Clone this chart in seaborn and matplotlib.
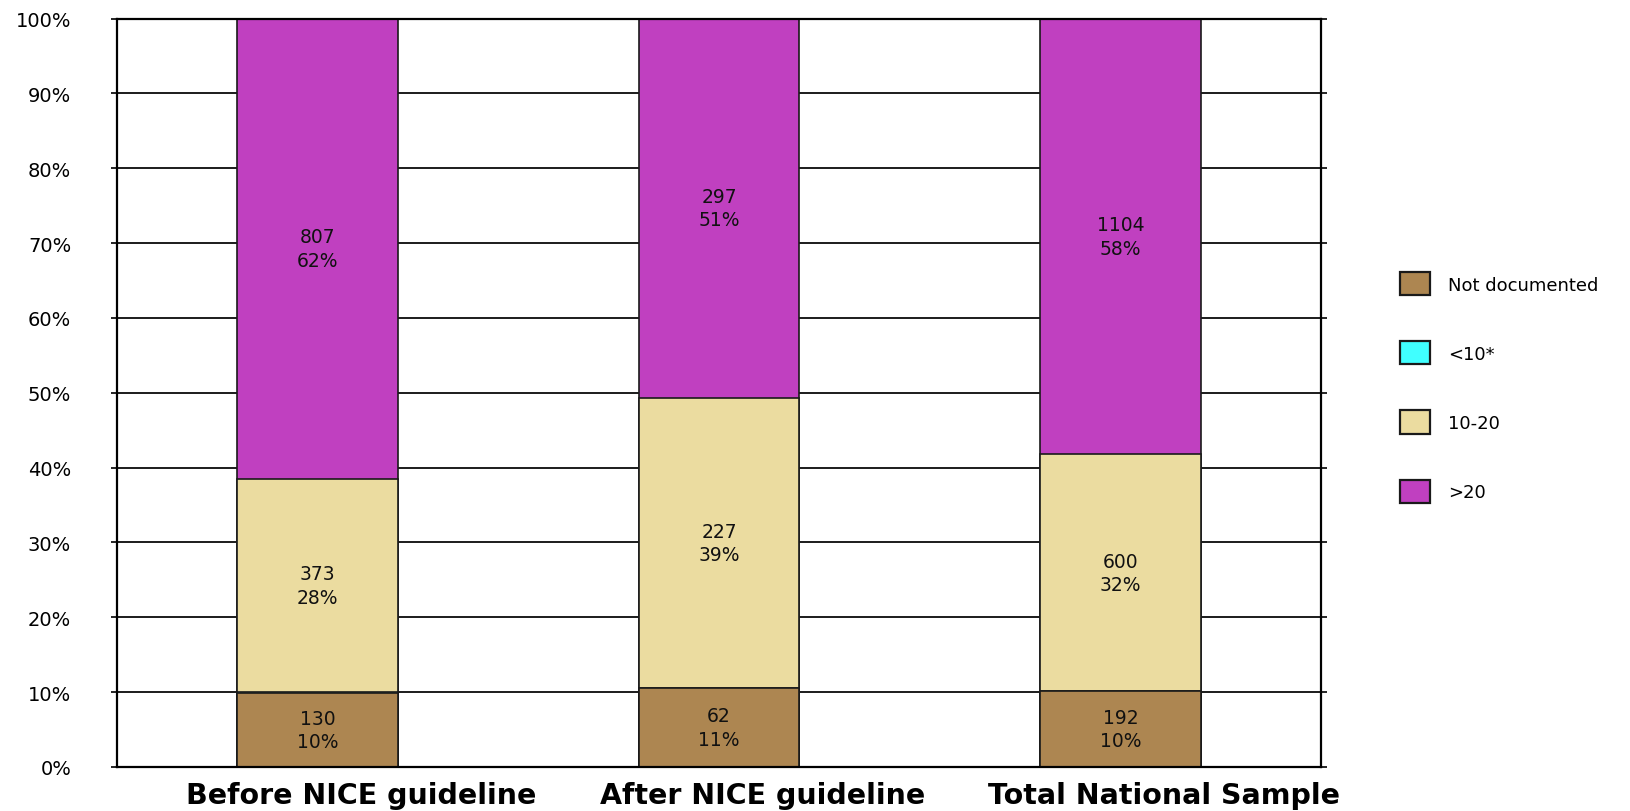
import matplotlib
matplotlib.use("Agg")
import matplotlib.pyplot as plt
import matplotlib.transforms as mtransforms
from matplotlib.patches import Patch
import numpy as np
import pandas as pd
import seaborn as sns

# Groups compared and the length-of-stay bands stacked in each bar
groups = ["Before NICE guideline", "After NICE guideline", "Total National Sample"]
series_names = ["Not documented", "<10*", "10-20", ">20"]

not_documented = [130, 62, 192]
under_10 = [2, 0, 0]
from_10_to_20 = [373, 227, 600]
over_20 = [807, 297, 1104]

series_colors = ["#AD8651", "#40FFFF", "#EBDCA0", "#C040C0"]
labelled_series = [True, False, True, True]

y_ticks = [0, 10, 20, 30, 40, 50, 60, 70, 80, 90, 100]
y_tick_labels = [f"{t}%" for t in y_ticks]

sns.set_style("white")
plt.rcParams["font.family"] = ["DejaVu Sans"]
plt.rcParams["text.color"] = "black"

counts = np.array([not_documented, under_10, from_10_to_20, over_20], dtype=float)
totals = counts.sum(axis=0)
shares = counts / totals * 100
tops = np.cumsum(shares, axis=0)

fig = plt.figure(figsize=(16.30, 8.12), dpi=100)
ax = fig.add_axes([117 / 1630, 1 - 768 / 812, (1321 - 117) / 1630, (768 - 19.5) / 812])

edge = "#1a1a1a"
# Stack by overlaying cumulative bars, tallest first
for i in reversed(range(len(series_names))):
    df = pd.DataFrame({"group": groups, "top": tops[i]})
    sns.barplot(data=df, x="group", y="top", order=groups,
                color=series_colors[i], saturation=1, width=0.4,
                edgecolor=edge, linewidth=1.2, ax=ax, zorder=2)

# Count and percentage inside each segment
for i in range(len(series_names)):
    if not labelled_series[i]:
        continue
    for j in range(len(groups)):
        mid = tops[i][j] - shares[i][j] / 2
        ax.text(j, mid, f"{int(counts[i][j])}\n{round(shares[i][j])}%",
                ha="center", va="center", fontsize=13.5, color="#111111",
                linespacing=1.3, zorder=3)

ax.set_xlim(-0.5, 2.5)
ax.set_ylim(0, 100)
ax.set_yticks(y_ticks)
ax.set_yticklabels(y_tick_labels)
ax.set_xlabel("")
ax.set_ylabel("")

ax.set_axisbelow(True)
ax.yaxis.grid(True, color="black", linewidth=1.25)
ax.xaxis.grid(False)
for side in ["left", "right", "top", "bottom"]:
    ax.spines[side].set_visible(True)
    ax.spines[side].set_color("black")
    ax.spines[side].set_linewidth(1.6)

ax.tick_params(axis="y", which="both", left=True, right=True, labelright=False,
               direction="out", length=4, width=1.2, color="black",
               pad=29, labelsize=14, labelcolor="black")
ax.tick_params(axis="x", length=0, pad=10, labelsize=20.5, labelcolor="black")
shift = mtransforms.ScaledTranslation(44 / 100, 0, fig.dpi_scale_trans)
for lbl in ax.get_xticklabels():
    lbl.set_fontweight("bold")
    lbl.set_transform(lbl.get_transform() + shift)

handles = [Patch(facecolor=c, edgecolor=edge, linewidth=1.6) for c in series_colors]
fig.legend(handles, series_names, loc="upper left",
           bbox_to_anchor=(1400 / 1630, 1 - 273 / 812), frameon=False,
           fontsize=13, labelcolor="black", handlelength=1.65, handleheight=1.6,
           handletextpad=1.0, labelspacing=2.55, borderaxespad=0, borderpad=0)

fig.savefig("out.png", dpi=100)
